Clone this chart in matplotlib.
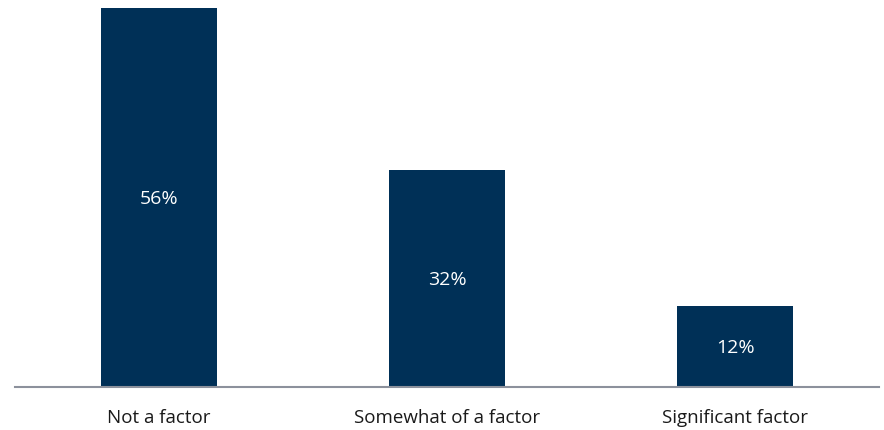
import matplotlib.pyplot as plt

categories = ['Not a factor', 'Somewhat of a factor', 'Significant factor']
values = [56, 32, 12]
labels = ['56%', '32%', '12%']

plt.rcParams['font.family'] = ['Open Sans', 'DejaVu Sans']

fig = plt.figure(figsize=(8.84, 4.30), dpi=100)
ax = fig.add_axes([15 / 884, 43 / 430, 864 / 884, 387 / 430])

x = range(len(categories))
bars = ax.bar(x, values, width=0.4, color='#003057')
for b, lab in zip(bars, labels):
    ax.text(b.get_x() + b.get_width() / 2, b.get_height() / 2 - 0.2, lab,
            ha='center', va='center', color='white', fontsize=14)

ax.set_xlim(-0.5, 2.5)
ax.set_ylim(0, 57.2)
ax.set_xticks(list(x))
ax.set_xticklabels(categories, fontsize=13.5, color='#1a1a1a')
ax.tick_params(axis='x', length=0, pad=16)
ax.set_yticks([])
for s in ['top', 'right', 'left']:
    ax.spines[s].set_visible(False)
ax.spines['bottom'].set_color('#8c919c')
ax.spines['bottom'].set_linewidth(1.5)

fig.savefig('out.png', dpi=100)
